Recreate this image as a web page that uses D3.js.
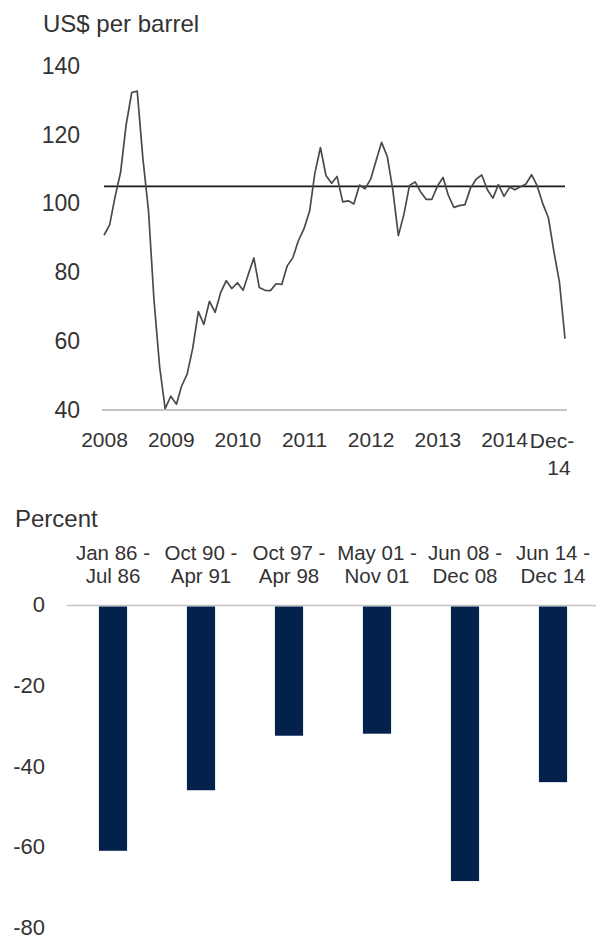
<!DOCTYPE html>
<html>
<head>
<meta charset="utf-8">
<script src="https://cdn.jsdelivr.net/npm/d3@7"></script>
<style>
  html, body { margin: 0; padding: 0; background: #fff; }
  svg text { font-family: "Liberation Sans", Arial, sans-serif; fill: #333; }
</style>
</head>
<body>
<svg id="chart" width="596" height="940"></svg>
<script>
// ---------- Data: top panel (monthly crude price, Jan 2008 – Dec 2014) ----------
const firstMonth = "2008-01";
const lastMonth = "2014-12";
const prices2008 = [90.8, 93.8, 101.8, 109.1, 122.8, 132.3, 132.7, 113.2, 97.8, 71.9, 52.5, 40.4];
const prices2009 = [44.0, 41.7, 46.9, 50.5, 57.9, 68.6, 64.9, 71.6, 68.4, 74.1, 77.6, 75.3];
const prices2010 = [77.0, 74.8, 79.3, 84.2, 75.6, 74.8, 74.7, 76.7, 76.5, 81.9, 84.3, 89.2];
const prices2011 = [92.7, 97.9, 108.7, 116.3, 108.2, 105.9, 107.9, 100.5, 100.8, 99.9, 105.4, 104.3];
const prices2012 = [107.1, 112.7, 117.8, 113.7, 104.2, 90.7, 96.8, 105.3, 106.3, 103.4, 101.2, 101.2];
const prices2013 = [105.1, 107.6, 102.5, 98.9, 99.4, 99.7, 104.5, 107.1, 108.3, 104.1, 101.6, 105.5];
const prices2014 = [102.1, 104.8, 104.0, 104.9, 105.7, 108.4, 105.2, 100.0, 95.9, 86.1, 77.0, 60.7];
const averagePrice = 105;
const priceTicks = [40, 60, 80, 100, 120, 140];
const yearLabels = ["2008", "2009", "2010", "2011", "2012", "2013", "2014"];
const endLabel = ["Dec-", "14"];

// ---------- Data: bottom panel (peak-to-trough declines) ----------
const periodStarts = ["Jan 86", "Oct 90", "Oct 97", "May 01", "Jun 08", "Jun 14"];
const periodEnds   = ["Jul 86", "Apr 91", "Apr 98", "Nov 01", "Dec 08", "Dec 14"];
const declines     = [-61, -46, -32.5, -32, -68.5, -44];
const percentTicks = [0, -20, -40, -60, -80];

const svg = d3.select("#chart");
const parse = d3.timeParse("%Y-%m");
const prices = [].concat(prices2008, prices2009, prices2010, prices2011, prices2012, prices2013, prices2014);
const months = d3.timeMonth.range(parse(firstMonth), d3.timeMonth.offset(parse(lastMonth), 1));
const series = months.map((m, i) => ({ date: m, value: prices[i] }));

// ===== Top panel =====
const x = d3.scaleTime().domain([parse(firstMonth), parse(lastMonth)]).range([104, 565]);
const y = d3.scaleLinear().domain([40, 140]).range([410, 66]);

svg.append("text").attr("x", 43).attr("y", 32)
  .style("font-size", "24px").text("US$ per barrel");

// y axis labels
const yAxis = svg.append("g").attr("transform", "translate(80,0)")
  .call(d3.axisLeft(y).tickValues(priceTicks).tickSize(0).tickPadding(0).tickFormat(d3.format("d")));
yAxis.select(".domain").remove();
yAxis.selectAll("text").style("font-size", "23px").attr("fill", "#333");

// baseline
svg.append("line")
  .attr("x1", x.range()[0] - 2).attr("x2", x.range()[1] + 2)
  .attr("y1", y(40)).attr("y2", y(40))
  .attr("stroke", "#b0b0b0").attr("stroke-width", 1.6);

// x axis labels
const yearDates = yearLabels.map(l => parse(l + "-01"));
const xAxis = svg.append("g").attr("transform", `translate(0,${y(40)})`)
  .call(d3.axisBottom(x).tickValues(yearDates).tickSize(0).tickPadding(22)
    .tickFormat(d3.timeFormat("%Y")));
xAxis.select(".domain").remove();
xAxis.selectAll("text").style("font-size", "21px").attr("fill", "#333");

const endX = x(parse(lastMonth));
svg.append("text").attr("x", endX - 13).attr("y", 448).attr("text-anchor", "middle")
  .style("font-size", "21px").text(endLabel[0]);
svg.append("text").attr("x", endX - 6).attr("y", 475).attr("text-anchor", "middle")
  .style("font-size", "21px").text(endLabel[1]);

// average reference line
svg.append("line")
  .attr("x1", x.range()[0]).attr("x2", x.range()[1])
  .attr("y1", y(averagePrice)).attr("y2", y(averagePrice))
  .attr("stroke", "#1a1a1a").attr("stroke-width", 1.8);

// price line
svg.append("path").datum(series)
  .attr("fill", "none").attr("stroke", "#4a4a4a").attr("stroke-width", 1.7)
  .attr("stroke-linejoin", "round")
  .attr("d", d3.line().x(d => x(d.date)).y(d => y(d.value)));

// ===== Bottom panel =====
const xb = d3.scaleBand().domain(periodStarts).range([69, 597])
  .paddingInner(0.68).paddingOuter(0.34);
const yb = d3.scaleLinear().domain([-80, 0]).range([927.5, 604.5]);

svg.append("text").attr("x", 15).attr("y", 527)
  .style("font-size", "24px").text("Percent");

// category labels (two lines)
const cats = svg.append("g");
periodStarts.forEach((s, i) => {
  const cx = xb(s) + xb.bandwidth() / 2;
  cats.append("text").attr("x", cx).attr("y", 560).attr("text-anchor", "middle")
    .style("font-size", "20.5px").text(s + " -");
  cats.append("text").attr("x", cx).attr("y", 583).attr("text-anchor", "middle")
    .style("font-size", "20.5px").text(periodEnds[i]);
});

// y axis labels
const ybAxis = svg.append("g").attr("transform", "translate(45,0)")
  .call(d3.axisLeft(yb).tickValues(percentTicks).tickSize(0).tickPadding(0)
    .tickFormat(d => String(d)));
ybAxis.select(".domain").remove();
ybAxis.selectAll("text").style("font-size", "22px").attr("fill", "#333");

// zero line
svg.append("line").attr("x1", 67).attr("x2", 596)
  .attr("y1", yb(0) + 1).attr("y2", yb(0) + 1)
  .attr("stroke", "#c4c4c4").attr("stroke-width", 1.6);

// bars
svg.append("g").selectAll("rect").data(declines).join("rect")
  .attr("x", (d, i) => xb(periodStarts[i]))
  .attr("width", xb.bandwidth())
  .attr("y", yb(0) + 2)
  .attr("height", d => yb(d) - yb(0) - 2)
  .attr("fill", "#03214b");
</script>
</body>
</html>
